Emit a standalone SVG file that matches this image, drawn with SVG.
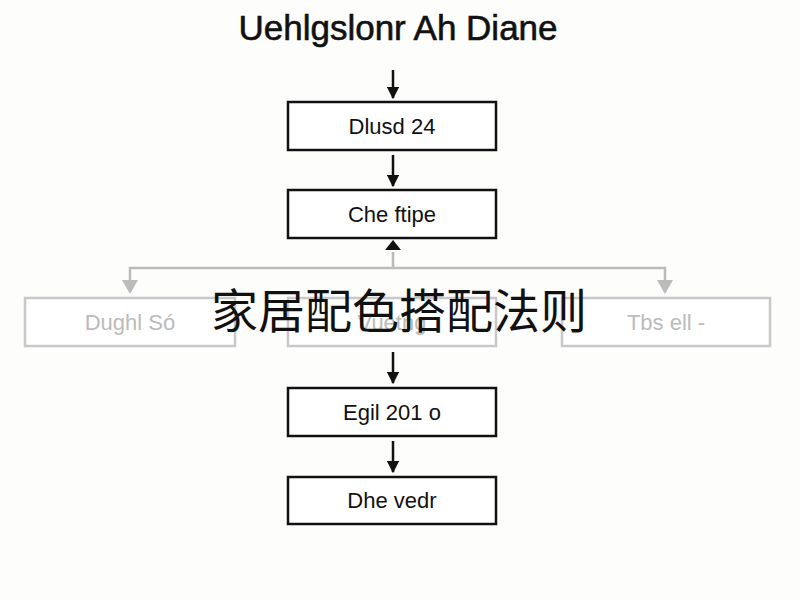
<svg xmlns="http://www.w3.org/2000/svg" width="800" height="600" viewBox="0 0 800 600">
<style>
.b{fill:#fff;stroke:#111;stroke-width:2.5}
.g{fill:#fff;stroke:#c8c8c8;stroke-width:2.5}
.t{font-family:"Liberation Sans",Arial,sans-serif;font-size:22px;text-anchor:middle;fill:#111}
.tg{font-family:"Liberation Sans",Arial,sans-serif;font-size:22px;text-anchor:middle;fill:#bbb}
.l{stroke:#111;stroke-width:2.5;fill:none}
.lg{stroke:#bbb;stroke-width:2.5;fill:none}
</style>
<defs>
<marker id="a" viewBox="0 0 10 10" refX="9" refY="5" markerWidth="5" markerHeight="5" orient="auto"><path d="M0,0L10,5L0,10z" fill="#111"/></marker>
</defs>
<rect width="800" height="600" fill="#fdfdfc"/>
<text x="398" y="40" style="font-family:'Liberation Sans',Arial,sans-serif;font-size:35px;text-anchor:middle;fill:#111;stroke:#111;stroke-width:0.6">Uehlgslonr Ah Diane</text>
<g id="connectors">
<line class="l" x1="393" y1="70" x2="393" y2="98" marker-end="url(#a)"/>
<line class="l" x1="393" y1="155" x2="393" y2="186" marker-end="url(#a)"/>
<line class="lg" x1="393" y1="268" x2="393" y2="252"/>
<path d="M385,250L393,240L401,250z" fill="#111"/>
<polyline class="lg" points="130,292 130,268 665,268 665,292"/>
<path d="M122,280L130,294L138,280z" fill="#bbb"/>
<path d="M657,280L665,294L673,280z" fill="#bbb"/>
<line class="l" x1="393" y1="352" x2="393" y2="383" marker-end="url(#a)"/>
<line class="l" x1="393" y1="441" x2="393" y2="472" marker-end="url(#a)"/>
</g>
<g id="n1"><rect class="b" x="288" y="102" width="208" height="48"/><text class="t" x="392" y="134">Dlusd 24</text></g>
<g id="n2"><rect class="b" x="288" y="190" width="208" height="48"/><text class="t" x="392" y="222">Che ftipe</text></g>
<g id="n3"><rect class="g" x="25" y="298" width="210" height="48"/><text class="tg" x="130" y="330">Dughl Só</text></g>
<g id="n4"><rect class="g" x="288" y="298" width="208" height="48"/><text class="tg" x="392" y="330">Vuetng</text></g>
<g id="n5"><rect class="g" x="562" y="298" width="208" height="48"/><text class="tg" x="666" y="330">Tbs ell -</text></g>
<g id="n6"><rect class="b" x="288" y="388" width="208" height="48"/><text class="t" x="392" y="420">Egil 201 o</text></g>
<g id="n7"><rect class="b" x="288" y="477" width="208" height="47"/><text class="t" x="392" y="508">Dhe vedr</text></g>
<text x="399" y="328" style="font-family:'Noto Sans CJK SC',sans-serif;font-size:47px;text-anchor:middle;fill:#111">家居配色搭配法则</text>
</svg>
